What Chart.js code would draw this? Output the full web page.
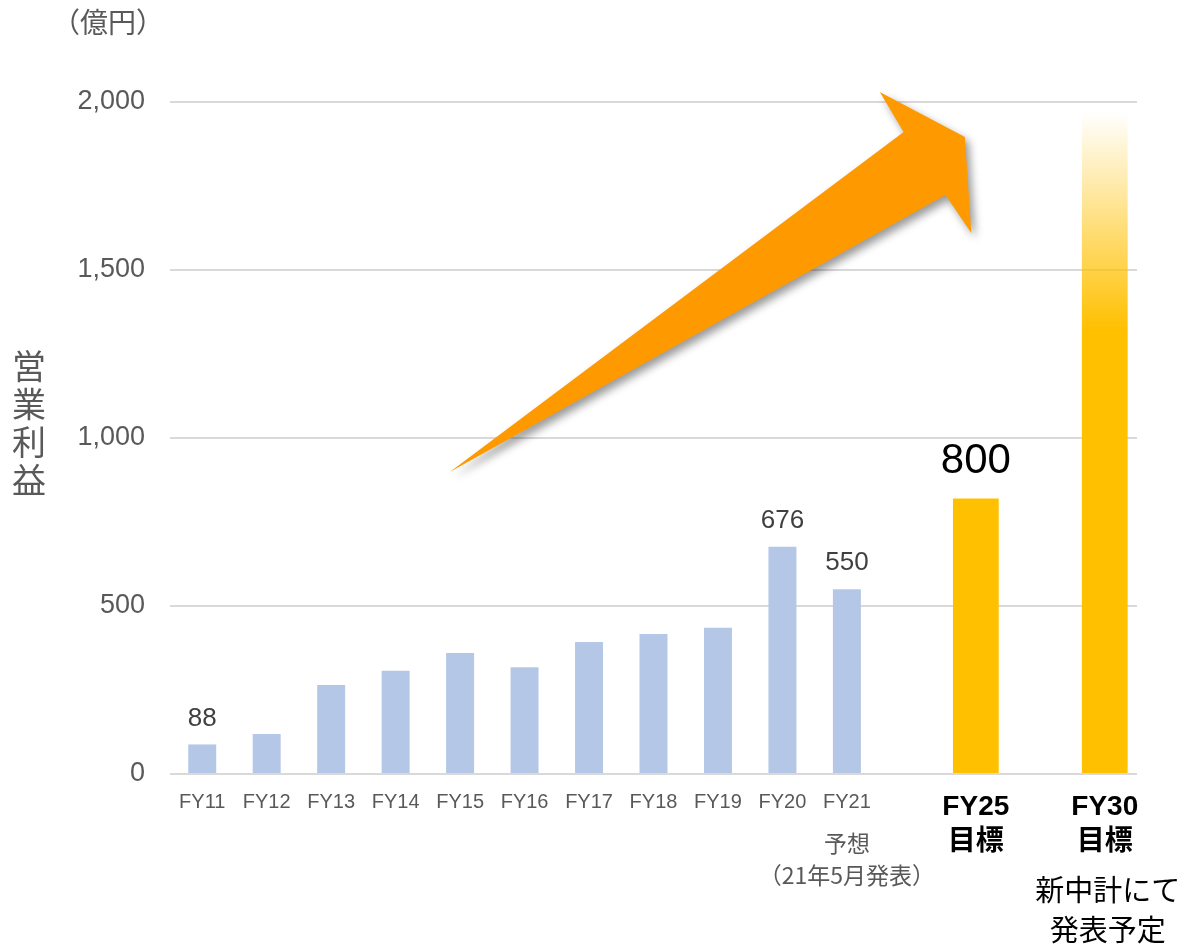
<!DOCTYPE html>
<html>
<head>
<meta charset="utf-8">
<script src="https://cdn.jsdelivr.net/npm/chart.js@4"></script>
<style>
  body { margin: 0; background: #fff; }
</style>
</head>
<body>
<canvas id="chart" width="1191" height="950"></canvas>
<script>
const FONT = "'Liberation Sans', 'Noto Sans CJK JP', sans-serif";
const JP_FONT = "'Noto Sans CJK JP', 'Liberation Sans', sans-serif";

// data
const categories = ['FY11', 'FY12', 'FY13', 'FY14', 'FY15', 'FY16', 'FY17', 'FY18', 'FY19', 'FY20', 'FY21',
    '', ['FY25', '目標'], '', ['FY30', '目標']];
const actualValues = [88, 119, 265, 307, 360, 318, 393, 417, 435, 676, 550, null, null, null, null];
const targetValues = [null, null, null, null, null, null, null, null, null, null, null, null, 820, null, 1970];
const actualLabels = ['88', null, null, null, null, null, null, null, null, '676', '550'];
const targetLabels = { 12: '800' };
const yTicks = [0, 500, 1000, 1500, 2000];

// arrow outline in (category index, value) units
const arrowPoints = [[3.84, 899], [10.88, 1911], [10.51, 2030], [11.83, 1896], [11.93, 1610], [11.53, 1723]];

function fy30Fill(c) {
    const chart = c.chart;
    if (!chart.chartArea || c.dataIndex !== 14) return '#FFC000';
    const y = chart.scales.y;
    const g = chart.ctx.createLinearGradient(0, y.getPixelForValue(1970), 0, y.getPixelForValue(1320));
    g.addColorStop(0, 'rgba(255,192,0,0)');
    g.addColorStop(1, 'rgba(255,192,0,1)');
    return g;
}

const extras = {
    id: 'extras',
    beforeDatasetsDraw(chart) {
        const ctx = chart.ctx;
        const x = chart.scales.x, y = chart.scales.y;
        ctx.save();
        ctx.beginPath();
        arrowPoints.forEach(([i, v], k) => {
            const px = x.getPixelForValue(i), py = y.getPixelForValue(v);
            if (k === 0) ctx.moveTo(px, py); else ctx.lineTo(px, py);
        });
        ctx.closePath();
        ctx.shadowColor = 'rgba(0,0,0,0.4)';
        ctx.shadowBlur = 9;
        ctx.shadowOffsetX = 4;
        ctx.shadowOffsetY = 5;
        ctx.fillStyle = '#FF9900';
        ctx.fill();
        ctx.restore();
    },
    afterDatasetsDraw(chart) {
        const ctx = chart.ctx;
        const x = chart.scales.x;
        ctx.save();
        ctx.textAlign = 'center';
        ctx.textBaseline = 'middle';

        // value labels
        const m0 = chart.getDatasetMeta(0);
        ctx.font = '26px ' + FONT;
        ctx.fillStyle = '#404040';
        actualLabels.forEach((t, i) => {
            if (!t) return;
            const bar = m0.data[i];
            ctx.fillText(t, bar.x, bar.y - 26);
        });
        const m1 = chart.getDatasetMeta(1);
        ctx.font = '42px ' + FONT;
        ctx.fillStyle = '#000';
        Object.keys(targetLabels).forEach(i => {
            const bar = m1.data[i];
            ctx.fillText(targetLabels[i], bar.x, bar.y - 37);
        });

        // unit and axis title
        ctx.fillStyle = '#595959';
        ctx.font = '28px ' + JP_FONT;
        ctx.fillText('（億円）', 108, 22);
        ctx.font = '34px ' + JP_FONT;
        ['営', '業', '利', '益'].forEach((ch, k) => ctx.fillText(ch, 29, 366 + k * 38));

        // notes under the axis
        const x21 = x.getPixelForValue(10);
        ctx.font = '23px ' + JP_FONT;
        ctx.fillText('予想', x21, 843);
        ctx.fillText('（21年5月発表）', x21, 875);

        const x30 = x.getPixelForValue(14);
        ctx.fillStyle = '#000';
        ctx.font = '29px ' + JP_FONT;
        ctx.fillText('新中計にて', x30 + 3, 890);
        ctx.fillText('発表予定', x30 + 3, 930);
        ctx.restore();
    }
};

new Chart(document.getElementById('chart'), {
    type: 'bar',
    data: {
        labels: categories,
        datasets: [{
            data: actualValues,
            backgroundColor: '#B4C7E7',
            barPercentage: 0.434,
            categoryPercentage: 1
        }, {
            data: targetValues,
            backgroundColor: fy30Fill,
            barPercentage: 0.71,
            categoryPercentage: 1
        }]
    },
    options: {
        responsive: false,
        animation: false,
        devicePixelRatio: 1,
        grouped: false,
        layout: { padding: { top: 102, right: 54, left: 0, bottom: 0 } },
        plugins: { legend: { display: false }, tooltip: { enabled: false } },
        scales: {
            x: {
                grid: { display: false },
                border: { display: false },
                afterFit: s => { s.height = 176; },
                ticks: {
                    autoSkip: false,
                    maxRotation: 0,
                    padding: 8,
                    color: c => (c.index === 12 || c.index === 14) ? '#000' : '#595959',
                    font: c => (c.index === 12 || c.index === 14)
                        ? { family: FONT, size: 28, weight: 'bold', lineHeight: 1.25 }
                        : { family: FONT, size: 20 }
                }
            },
            y: {
                min: 0,
                max: 2000,
                afterFit: s => { s.width = 170; },
                afterBuildTicks: s => { s.ticks = yTicks.map(v => ({ value: v })); },
                border: { display: false },
                grid: { color: '#D9D9D9', lineWidth: 2, drawTicks: false },
                ticks: {
                    padding: 25,
                    color: '#595959',
                    font: { family: FONT, size: 27 },
                    callback: v => v.toLocaleString('en-US')
                }
            }
        }
    },
    plugins: [extras]
});
</script>
</body>
</html>
